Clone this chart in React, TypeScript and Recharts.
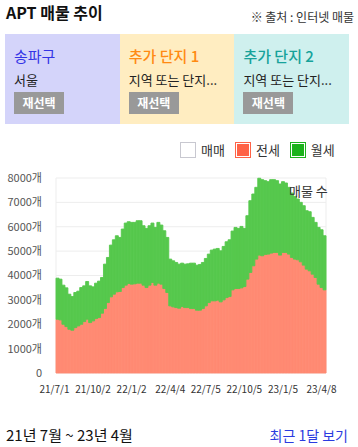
import React from 'react';
import { BarChart, Bar, XAxis, YAxis, CartesianGrid } from 'recharts';

const jeonse = [
  2206, 2178, 2000, 1904, 1795, 1754, 1863, 1932, 2000, 2110,
  2206, 2069, 2137, 2233, 2274, 2452, 2644, 2891, 3124, 3233,
  3329, 3343, 3507, 3603, 3672, 3644, 3658, 3685, 3685, 3603,
  3507, 3603, 3713, 3603, 3685, 3644, 3466, 3302, 2754, 2713,
  2685, 2658, 2726, 2685, 2685, 2644, 2644, 2576, 2576, 2644,
  2754, 2891, 2959, 2959, 2987, 2918, 3000, 3096, 3137, 3411,
  3466, 3466, 3494, 3548, 3850, 4124, 4398, 4672, 4836, 4809,
  4864, 4877, 4918, 4946, 4946, 4836, 4946, 4946, 4877, 4740,
  4672, 4644, 4562, 4425, 4261, 4192, 4055, 3918, 3644, 3507,
  3411,
];

const wolse = [
  1685, 1672, 1603, 1590, 1438, 1383, 1439, 1425, 1507, 1466,
  1548, 1507, 1398, 1452, 1494, 1466, 1822, 1849, 2123, 2233,
  2302, 2219, 2398, 2548, 2534, 2535, 2521, 2562, 2562, 2439,
  2425, 2439, 2438, 2370, 2494, 2425, 2370, 2260, 1918, 1890,
  1850, 1808, 1781, 1781, 1795, 1863, 1863, 1849, 1877, 1891,
  1945, 1986, 2083, 2124, 2123, 2096, 2192, 2288, 2329, 2412,
  2507, 2466, 2520, 2384, 2603, 2945, 2945, 2945, 3154, 3123,
  3027, 2973, 3014, 2986, 2945, 2918, 2904, 2849, 2740, 2644,
  2575, 2494, 2439, 2439, 2397, 2425, 2329, 2261, 2329, 2370,
  2220,
];

const tickIdx = [0, 13, 26, 39, 51, 64, 77, 90];
const tickLabels = ['21/7/1', '21/10/2', '22/1/2', '22/4/4', '22/7/5', '22/10/5', '23/1/5', '23/4/8'];
const yTicks = [0, 1000, 2000, 3000, 4000, 5000, 6000, 7000, 8000];

const data = jeonse.map((j, i) => ({ i, jeonse: j, wolse: wolse[i], maemae: 0 }));

const FONT = '"Noto Sans CJK KR", "Noto Sans", sans-serif';

const panels = [
  { bg: '#D4D4FA', title: '송파구', color: '#3434E6', sub: '서울' },
  { bg: '#FFEDC1', title: '추가 단지 1', color: '#FF8A12', sub: '지역 또는 단지...' },
  { bg: '#CFF0EE', title: '추가 단지 2', color: '#16A29A', sub: '지역 또는 단지...' },
];

const legendItems = [
  { label: '매매', fill: '#FFFFFF', border: '#C8C8D0' },
  { label: '전세', fill: '#FF6347', border: '#FF6347' },
  { label: '월세', fill: '#1DB31D', border: '#1DB31D' },
];

export default function App() {
  return (
    <div style={{ position: 'relative', width: 358, height: 447, fontFamily: FONT, color: '#222', overflow: 'hidden' }}>
      <style>{'body{margin:0}'}</style>
      <div style={{ position: 'absolute', left: 6, top: 2, fontSize: 16, fontWeight: 700, lineHeight: '20px', color: '#111' }}>
        APT 매물 추이
      </div>
      <div style={{ position: 'absolute', right: 4, top: 9, fontSize: 12, lineHeight: '16px', color: '#333' }}>
        ※ 출처 : 인터넷 매물
      </div>
      {panels.map((p, k) => (
        <div
          key={k}
          style={{
            position: 'absolute',
            left: 5 + k * 114.7,
            top: 34,
            width: 115,
            height: 90,
            background: p.bg,
          }}
        >
          <div style={{ position: 'absolute', left: 9, top: 12, fontSize: 15, lineHeight: '20px', color: p.color, fontWeight: k === 0 ? 400 : 500, whiteSpace: 'nowrap' }}>
            {p.title}
          </div>
          <div style={{ position: 'absolute', left: 9, top: 37, fontSize: 13, lineHeight: '18px', color: '#222', whiteSpace: 'nowrap' }}>
            {p.sub}
          </div>
          <div
            style={{
              position: 'absolute',
              left: 9,
              top: 58,
              width: 50,
              height: 22,
              background: '#999999',
              color: '#fff',
              fontSize: 12,
              fontWeight: 700,
              lineHeight: '22px',
              textAlign: 'center',
            }}
          >
            재선택
          </div>
        </div>
      ))}
      <div style={{ position: 'absolute', left: 180, top: 142, display: 'flex', alignItems: 'center', height: 15 }}>
        {legendItems.map((l, k) => (
          <div key={k} style={{ display: 'flex', alignItems: 'center', marginRight: k < 2 ? 10 : 0 }}>
            <div
              style={{
                width: 12,
                height: 12,
                border: `1px solid ${l.border}`,
                padding: 1,
                background: l.fill,
                backgroundClip: 'content-box',
                boxSizing: 'content-box',
                marginRight: 5,
              }}
            />
            <span style={{ fontSize: 13, lineHeight: '15px', color: '#333' }}>{l.label}</span>
          </div>
        ))}
      </div>
      <div style={{ position: 'absolute', left: 0, top: 170 }}>
        <BarChart
          width={358}
          height={233}
          data={data}
          margin={{ top: 8, right: 32, left: 0, bottom: 0 }}
          barCategoryGap={0}
          barGap={0}
        >
          <CartesianGrid
            stroke="#EDEDED"
            verticalCoordinatesGenerator={({ offset }: any) => [offset.left, offset.left + offset.width]}
          />
          <XAxis
            dataKey="i"
            type="category"
            ticks={tickIdx}
            interval={0}
            tickFormatter={(v: any) => tickLabels[tickIdx.indexOf(Number(v))] ?? ''}
            axisLine={false}
            tickLine={false}
            tickSize={0}
            tickMargin={13}
            height={30}
            tick={{ fontSize: 10, fill: '#333', fontFamily: FONT, dx: -3 }}
          />
          <YAxis
            domain={[0, 8000]}
            ticks={yTicks}
            interval={0}
            width={56}
            axisLine={false}
            tickLine={false}
            tickSize={0}
            tickMargin={14}
            tickFormatter={(v: number) => (v === 0 ? '0' : `${v}개`)}
            tick={{ fontSize: 11, fill: '#555', fontFamily: FONT }}
          />
          <Bar dataKey="jeonse" stackId="a" fill="#FF8A73" isAnimationActive={false} stroke="#FF8A73" strokeWidth={0.9} />
          <Bar dataKey="wolse" stackId="a" fill="#56C84D" isAnimationActive={false} stroke="#56C84D" strokeWidth={0.9} />
          <Bar dataKey="maemae" stackId="a" fill="#FFFFFF" isAnimationActive={false} />
        </BarChart>
      </div>
      <div style={{ position: 'absolute', left: 289, top: 183, fontSize: 13, lineHeight: '16px', color: '#333', pointerEvents: 'none' }}>
        매물 수
      </div>
      <div style={{ position: 'absolute', left: 6, top: 426, fontSize: 15, lineHeight: '18px', color: '#111' }}>
        21년 7월 ~ 23년 4월
      </div>
      <div style={{ position: 'absolute', right: 10, top: 426, fontSize: 14, lineHeight: '18px', color: '#2B3BE0' }}>
        최근 1달 보기
      </div>
    </div>
  );
}
